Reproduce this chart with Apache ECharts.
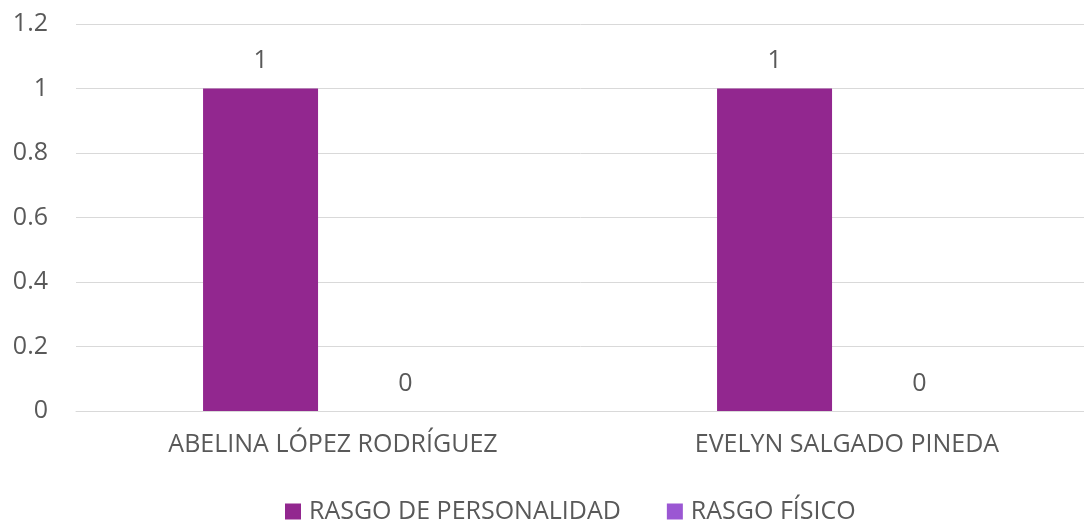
<!DOCTYPE html>
<html>
<head>
<meta charset="utf-8">
<script src="https://cdn.jsdelivr.net/npm/echarts@6/dist/echarts.min.js"></script>
<style>
  html, body { margin: 0; padding: 0; background: #fff; }
  #chart { width: 1084px; height: 524px; }
</style>
</head>
<body>
<div id="chart"></div>
<script>
// Categories and series values
const categories = ['ABELINA LÓPEZ RODRÍGUEZ', 'EVELYN SALGADO PINEDA'];
const personalidad = [1, 1];
const fisico = [0, 0];
const seriesNames = ['RASGO DE PERSONALIDAD', 'RASGO FÍSICO'];

const textColor = '#595959';
const fontFamily = '"Open Sans", "Noto Sans", sans-serif';

const chart = echarts.init(document.getElementById('chart'));

const labelStyle = {
  show: true,
  position: 'top',
  distance: 15,
  color: textColor,
  fontSize: 25,
  fontFamily: fontFamily
};

chart.setOption({
  animation: false,
  textStyle: { fontFamily: fontFamily },
  // plot area runs past the right edge of the canvas
  grid: {
    left: 76, width: 1028, top: 24, bottom: 113,
    containLabel: false,
    outerBoundsMode: 'none'
  },
  legend: {
    top: 499,
    left: 285,
    padding: 0,
    icon: 'rect',
    itemWidth: 16,
    itemHeight: 16,
    itemGap: 46,
    textStyle: { color: textColor, fontSize: 25, fontFamily: fontFamily, padding: [0, 0, 0, 3] },
    data: seriesNames
  },
  xAxis: {
    type: 'category',
    data: categories,
    axisLine: { show: true, lineStyle: { color: '#d9d9d9', width: 1 } },
    axisTick: { show: false },
    axisLabel: { color: textColor, fontSize: 25, margin: 21, fontFamily: fontFamily }
  },
  yAxis: {
    type: 'value',
    min: 0,
    max: 1.2,
    interval: 0.2,
    axisLine: { show: false },
    axisTick: { show: false },
    axisLabel: {
      color: textColor,
      fontSize: 25,
      margin: 28,
      fontFamily: fontFamily,
      formatter: v => String(Math.round(v * 10) / 10)
    },
    splitLine: { lineStyle: { color: '#d9d9d9', width: 1 } }
  },
  series: [
    {
      name: seriesNames[0],
      type: 'bar',
      data: personalidad,
      barWidth: 115,
      barGap: '26%',
      itemStyle: { color: '#92278F' },
      label: labelStyle
    },
    {
      name: seriesNames[1],
      type: 'bar',
      data: fisico,
      barWidth: 115,
      itemStyle: { color: '#9B57D3' },
      label: labelStyle
    }
  ]
});
</script>
</body>
</html>
